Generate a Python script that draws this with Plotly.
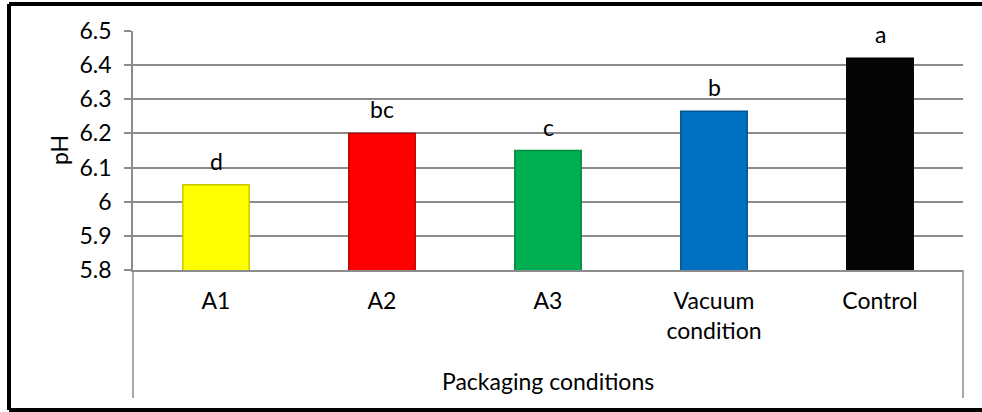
import plotly.graph_objects as go

categories = ["A1", "A2", "A3", "Vacuum<br>condition", "Control"]
ph_values = [6.05, 6.20, 6.15, 6.265, 6.42]
letters = ["d", "bc", "c", "b", "a"]
bar_colors = ["#FFFF00", "#FF0000", "#00B050", "#0070C0", "#050505"]
edge_colors = ["#C8C800", "#C00000", "#008A3E", "#00558F", "#000000"]
y_ticks = [5.8, 5.9, 6.0, 6.1, 6.2, 6.3, 6.4, 6.5]
y_tick_text = ["5.8", "5.9", "6", "6.1", "6.2", "6.3", "6.4", "6.5"]

FONT = "Lato, Carlito, Calibri, sans-serif"
FS = 23
W, H = 982, 412
L, R, T, B = 133, 963, 31, 270
pw, ph = R - L, B - T

def px_x(p):
    return (p - L) / pw

def px_y(p):
    return (B - p) / ph

fig = go.Figure()
fig.add_trace(go.Bar(
    x=categories, y=ph_values,
    marker=dict(color=bar_colors, line=dict(color=edge_colors, width=1.5)),
    width=0.4, showlegend=False, hoverinfo="x+y",
))

annotations = []
for c, v, t in zip(categories, ph_values, letters):
    annotations.append(dict(x=c, y=v, xref="x", yref="y", text=t, showarrow=False,
                            yanchor="middle", yshift=24,
                            font=dict(family=FONT, size=FS, color="#000000")))
annotations.append(dict(x=0.5, y=px_y(381), xref="paper", yref="paper",
                        text="Packaging conditions", showarrow=False,
                        xanchor="center", yanchor="middle",
                        font=dict(family=FONT, size=FS, color="#000000")))
annotations.append(dict(x=px_x(59), y=px_y(150), xref="paper", yref="paper",
                        text="pH", showarrow=False, textangle=-90,
                        xanchor="center", yanchor="middle",
                        font=dict(family=FONT, size=FS, color="#000000")))

grey = "#8C8C8C"
black_line = dict(color="#000000", width=4)
shapes = [
    dict(type="line", xref="paper", yref="paper", x0=0, x1=0, y0=px_y(398), y1=0,
         line=dict(color=grey, width=1.5)),
    dict(type="line", xref="paper", yref="paper", x0=1, x1=1, y0=px_y(398), y1=0,
         line=dict(color=grey, width=1.5)),
    dict(type="line", xref="paper", yref="paper", x0=px_x(9), x1=px_x(982),
         y0=px_y(4), y1=px_y(4), line=black_line, layer="above"),
    dict(type="line", xref="paper", yref="paper", x0=px_x(9), x1=px_x(982),
         y0=px_y(410), y1=px_y(410), line=black_line, layer="above"),
    dict(type="line", xref="paper", yref="paper", x0=px_x(9), x1=px_x(9),
         y0=px_y(410), y1=px_y(4), line=black_line, layer="above"),
]

fig.update_layout(
    width=W, height=H,
    margin=dict(l=L, r=W - R, t=T, b=H - B, pad=0),
    paper_bgcolor="white", plot_bgcolor="white",
    bargap=0.6,
    font=dict(family=FONT, size=FS, color="#000000"),
    xaxis=dict(showgrid=False, showline=True, linecolor=grey, linewidth=1.5,
               ticks="", tickfont=dict(family=FONT, size=FS), ticklabelstandoff=10,
               fixedrange=True),
    yaxis=dict(range=[5.8, 6.5], tickvals=y_ticks, ticktext=y_tick_text,
               showgrid=True, gridcolor=grey, gridwidth=1.5,
               showline=True, linecolor=grey, linewidth=1.5,
               ticks="outside", ticklen=7, tickcolor=grey, tickwidth=1.5,
               tickfont=dict(family=FONT, size=FS), ticklabelstandoff=8,
               zeroline=False, fixedrange=True),
    annotations=annotations, shapes=shapes,
)

fig.write_html("out.html", config={"displayModeBar": False},
               post_script="document.body.style.margin='0';document.body.style.overflow='hidden';")
